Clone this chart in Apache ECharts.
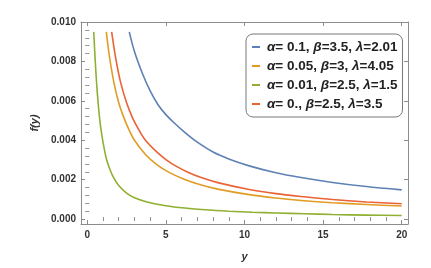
<!DOCTYPE html>
<html><head><meta charset="utf-8">
<script src="https://cdn.jsdelivr.net/npm/echarts@6/dist/echarts.min.js"></script>
<style>html,body{margin:0;padding:0;background:#fff}#c{width:431px;height:268px}</style>
</head><body><div id="c"></div>
<script>
const seriesNames = ['α= 0.1, β=3.5, λ=2.01','α= 0.05, β=3, λ=4.05','α= 0.01, β=2.5, λ=1.5','α= 0., β=2.5, λ=3.5'];
const blueX = [2.67,3.0,3.5,4.0,4.5,5.0,5.5,6.2,7.0,8.0,9.0,10.3,12,13.5,15.6,17.75,20];
const blueY = [0.0095,0.0085,0.0074,0.0065,0.0058,0.0053,0.0049,0.0044,0.0039,0.0034,0.00305,0.0027,0.00235,0.00212,0.00186,0.00165,0.00148];
const orangeX = [1.21,1.4,1.7,2.0,2.3,2.67,3.0,3.7,4.4,5.2,6.2,7.2,8.3,10.3,12,13.8,15.6,17.75,20];
const orangeY = [0.0095,0.0083,0.0069,0.0059,0.0052,0.0045,0.0040,0.00328,0.00278,0.00237,0.00201,0.00174,0.00152,0.00124,0.00107,0.00093,0.00083,0.00074,0.00066];
const greenX = [0.41,0.5,0.6,0.7,0.8,0.9,1.0,1.2,1.4,1.6,2.0,2.5,3.0,3.8,5.0,6.2,7.5,9.0,10.5,12,13.8,15.6,17.75,20];
const greenY = [0.0095,0.0081,0.0068,0.0058,0.0050,0.0044,0.0039,0.0031,0.0026,0.00222,0.00170,0.00132,0.00108,0.00087,0.00068,0.00056,0.00047,0.00040,0.00035,0.00031,0.00027,0.00023,0.00020,0.00018];
const redX = [1.55,1.8,2.1,2.5,2.9,3.3,3.7,4.4,5.0,5.7,6.4,7.2,8.3,10.3,12,13.8,15.6,17.75,20];
const redY = [0.0095,0.0082,0.0070,0.0059,0.0051,0.0045,0.0040,0.00342,0.00302,0.00266,0.00238,0.00212,0.00185,0.00150,0.00129,0.00113,0.00099,0.00087,0.00078];
const xTicks = [0,5,10,15,20];
const xMinor = [1,2,3,4,6,7,8,9,11,12,13,14,16,17,18,19];
const yTicks = [0,0.002,0.004,0.006,0.008,0.010];
const yMinor = [0.0004,0.0008,0.0012,0.0016,0.0024,0.0028,0.0032,0.0036,0.0044,0.0048,0.0052,0.0056,0.0064,0.0068,0.0072,0.0076,0.0084,0.0088,0.0092,0.0096];

const colors = ['#5E81B5','#E19C24','#8FB032','#EB6235'];
const frameColor = '#8c8c8c';
const font = 'Liberation Sans, Arial, sans-serif';
const xs = [blueX, orangeX, greenX, redX];
const ys = [blueY, orangeY, greenY, redY];

function xAx(pos, opts) {
  return Object.assign({
    type: 'value', position: pos, min: -0.4, max: 20.4,
    axisLine: {show: true, onZero: false, lineStyle: {color: frameColor, width: 1}},
    axisTick: {show: true, inside: true, length: 4, customValues: xTicks, lineStyle: {color: frameColor}},
    axisLabel: {show: false}, splitLine: {show: false}
  }, opts);
}
function yAx(pos, opts) {
  return Object.assign({
    type: 'value', position: pos, min: -0.00025, max: 0.0100,
    axisLine: {show: true, onZero: false, lineStyle: {color: frameColor, width: 1}},
    axisTick: {show: true, inside: true, length: 4, customValues: yTicks, lineStyle: {color: frameColor}},
    axisLabel: {show: false}, splitLine: {show: false}
  }, opts);
}
const minorX = {show: true, inside: true, length: 2, customValues: xMinor, lineStyle: {color: frameColor}};
const minorY = {show: true, inside: true, length: 2, customValues: yMinor, lineStyle: {color: frameColor}};

const chart = echarts.init(document.getElementById('c'), null, {renderer: 'canvas'});
chart.setOption({
  animation: false,
  color: colors,
  grid: {left: 81, right: 23, top: 22, bottom: 44},
  xAxis: [
    xAx('bottom', {
      name: 'y', nameLocation: 'middle', nameGap: 27,
      nameTextStyle: {fontFamily: font, fontWeight: 'bold', fontStyle: 'italic', fontSize: 11, color: '#333'},
      axisLabel: {show: true, customValues: xTicks, margin: 6, fontFamily: font, fontWeight: 'bold', fontSize: 10, color: '#333'}
    }),
    xAx('top', {}),
    xAx('bottom', {axisLine: {show: false}, axisTick: minorX}),
    xAx('top', {axisLine: {show: false}, axisTick: minorX})
  ],
  yAxis: [
    yAx('left', {
      name: 'f(y)', nameLocation: 'middle', nameGap: 37, nameRotate: 90,
      nameTextStyle: {fontFamily: font, fontWeight: 'bold', fontStyle: 'italic', fontSize: 11, color: '#333'},
      axisLabel: {show: true, customValues: yTicks, margin: 5, fontFamily: font, fontWeight: 'bold', fontSize: 10, color: '#333',
        formatter: v => v.toFixed(3)}
    }),
    yAx('right', {}),
    yAx('left', {axisLine: {show: false}, axisTick: minorY}),
    yAx('right', {axisLine: {show: false}, axisTick: minorY})
  ],
  legend: {
    left: 246, top: 34, orient: 'vertical',
    padding: [6, 5, 6, 6],
    itemWidth: 8, itemHeight: 2, itemGap: 5, icon: 'rect',
    backgroundColor: '#fff', borderColor: '#777', borderWidth: 1, borderRadius: 7,
    data: seriesNames,
    formatter: n => n.replace(/([αβλ])/g, '{g|$1}'),
    textStyle: {fontFamily: font, fontWeight: 'bold', fontSize: 13.5, color: '#222', padding: [0,0,0,2],
      rich: {g: {fontFamily: font, fontWeight: 'bold', fontStyle: 'italic', fontSize: 13.5, color: '#222'}}}
  },
  series: seriesNames.map((n, i) => ({
    name: n, type: 'line', xAxisIndex: 0, yAxisIndex: 0,
    showSymbol: false, smooth: 0.3,
    lineStyle: {width: 1.6, color: colors[i]},
    itemStyle: {color: colors[i]},
    data: xs[i].map((x, k) => [x, ys[i][k]])
  }))
});
</script></body></html>
